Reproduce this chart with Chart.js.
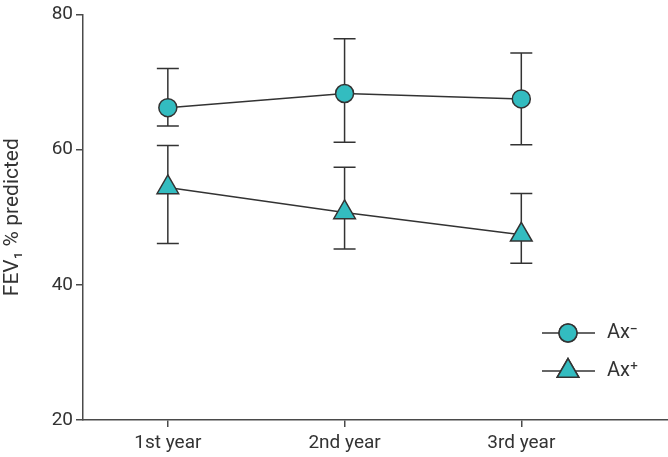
<!DOCTYPE html>
<html>
<head>
<meta charset="utf-8">
<script src="https://cdn.jsdelivr.net/npm/chart.js@4"></script>
<style>
  html, body { margin: 0; padding: 0; background: #fff; overflow: hidden; }
</style>
</head>
<body>
<canvas id="myChart" width="668" height="457"></canvas>
<script>
// datos
const categories = ['1st year', '2nd year', '3rd year'];
const axMinus = [66.2, 68.3, 67.5];
const axMinusLo = [63.5, 61.1, 60.7];
const axMinusHi = [72.0, 76.4, 74.3];
const axPlus = [54.4, 50.7, 47.4];
const axPlusLo = [46.1, 45.3, 43.2];
const axPlusHi = [60.6, 57.4, 53.5];
const yTicks = [20, 40, 60, 80];
const seriesLabels = ['Ax\u207B', 'Ax\u207A'];

const teal = '#33bcc0';
const dark = '#333333';
const axisColor = '#4a4a4a';
const font = { family: 'Roboto', size: 19 };

const toPoints = vals => vals.map((v, i) => ({ x: i + 1, y: v }));

// barras de error, dibujadas antes de las lineas y marcadores
const errorBars = {
    id: 'errorBars',
    beforeDatasetsDraw(chart) {
        const { ctx, scales: { x, y } } = chart;
        const sets = [[axMinusLo, axMinusHi], [axPlusLo, axPlusHi]];
        ctx.save();
        ctx.strokeStyle = dark;
        ctx.lineWidth = 1.5;
        sets.forEach(([lo, hi]) => {
            lo.forEach((l, i) => {
                const px = x.getPixelForValue(i + 1);
                const yl = y.getPixelForValue(l);
                const yh = y.getPixelForValue(hi[i]);
                ctx.beginPath();
                ctx.moveTo(px, yl); ctx.lineTo(px, yh);
                ctx.moveTo(px - 11, yl); ctx.lineTo(px + 11, yl);
                ctx.moveTo(px - 11, yh); ctx.lineTo(px + 11, yh);
                ctx.stroke();
            });
        });
        ctx.restore();
    }
};

// leyenda propia abajo a la derecha
const customLegend = {
    id: 'customLegend',
    afterDraw(chart) {
        const { ctx } = chart;
        const styles = ['circle', 'triangle'];
        const radii = [9, 12.5];
        ctx.save();
        chart.data.datasets.forEach((ds, i) => {
            const cy = 333 + i * 38;
            const cx = 568;
            ctx.strokeStyle = dark;
            ctx.lineWidth = 1.5;
            ctx.beginPath();
            ctx.moveTo(542, cy); ctx.lineTo(595, cy);
            ctx.stroke();
            ctx.fillStyle = teal;
            Chart.helpers.drawPoint(ctx, { pointStyle: styles[i], radius: radii[i], borderWidth: 1.5 }, cx, cy);
            ctx.fill();
            ctx.stroke();
            ctx.fillStyle = dark;
            ctx.font = '20px Roboto';
            ctx.textBaseline = 'middle';
            ctx.fillText(ds.label, 607, cy);
        });
        ctx.restore();
    }
};

new Chart(document.getElementById('myChart'), {
    type: 'line',
    data: {
        datasets: [{
            label: seriesLabels[0],
            data: toPoints(axMinus),
            borderColor: dark,
            borderWidth: 1.5,
            backgroundColor: teal,
            pointStyle: 'circle',
            pointRadius: 9,
            pointBorderColor: dark,
            pointBorderWidth: 1.5,
            tension: 0
        }, {
            label: seriesLabels[1],
            data: toPoints(axPlus),
            borderColor: dark,
            borderWidth: 1.5,
            backgroundColor: teal,
            pointStyle: 'triangle',
            pointRadius: 12.5,
            pointBorderColor: dark,
            pointBorderWidth: 1.5,
            tension: 0
        }]
    },
    options: {
        responsive: false,
        animation: false,
        layout: { autoPadding: false, padding: { top: 12, right: 0, bottom: 0, left: 0 } },
        plugins: {
            legend: { display: false },
            tooltip: { enabled: false }
        },
        scales: {
            x: {
                type: 'linear',
                min: 0.52,
                max: 3.83,
                afterBuildTicks: s => { s.ticks = categories.map((c, i) => ({ value: i + 1 })); },
                afterFit: s => { s.height = 37; s.paddingLeft = 0; s.paddingRight = 0; },
                ticks: {
                    color: dark,
                    font,
                    padding: 5,
                    callback: v => categories[v - 1]
                },
                grid: { drawOnChartArea: false, tickLength: 7, color: axisColor, lineWidth: 1.5 },
                border: { color: axisColor, width: 1.5 }
            },
            y: {
                min: 20,
                max: 80,
                afterBuildTicks: s => { s.ticks = yTicks.map(v => ({ value: v })); },
                afterFit: s => { s.width = 83; },
                ticks: { color: dark, font, padding: 3 },
                grid: { drawOnChartArea: false, tickLength: 7, color: axisColor, lineWidth: 1.5 },
                border: { color: axisColor, width: 1.5 },
                title: {
                    display: true,
                    text: 'FEV\u2081 % predicted',
                    color: dark,
                    font: { family: 'Roboto', size: 21 },
                    padding: { top: 0, bottom: 4 }
                }
            }
        }
    },
    plugins: [errorBars, customLegend]
});
</script>
</body>
</html>
